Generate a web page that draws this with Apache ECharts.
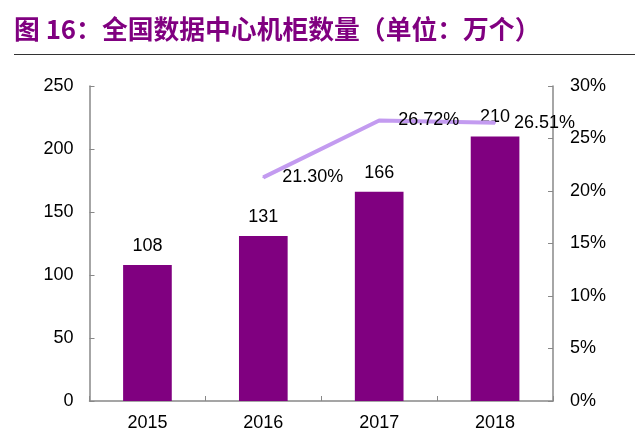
<!DOCTYPE html>
<html>
<head>
<meta charset="utf-8">
<script src="https://cdn.jsdelivr.net/npm/echarts@6/dist/echarts.min.js"></script>
<style>
html,body{margin:0;padding:0;background:#fff;}
#title{position:absolute;left:14px;top:12.5px;line-height:30px;font-family:"Noto Sans CJK SC","Liberation Sans",sans-serif;font-weight:bold;font-size:25.8px;color:#800080;white-space:nowrap;}
#rule{position:absolute;left:14px;top:54px;width:621px;height:0;border-top:1.5px solid #333;}
#chart{position:absolute;left:0;top:0;width:640px;height:435px;}
</style>
</head>
<body>
<div id="chart"></div>
<div id="title">图 16：全国数据中心机柜数量（单位：万个）</div>
<div id="rule"></div>
<script>
var categories = ['2015', '2016', '2017', '2018'];
var cabinets = [108, 131, 166, 210];
var growthPct = [null, 21.30, 26.72, 26.51];
var leftTicks = {min: 0, max: 250, interval: 50};
var rightTicks = {min: 0, max: 30, interval: 5};

var chart = echarts.init(document.getElementById('chart'));
var font = 'Liberation Sans';
chart.setOption({
  animation: false,
  grid: {left: 89.5, right: 87, top: 86, bottom: 34, containLabel: false},
  xAxis: {
    type: 'category',
    data: categories,
    axisLine: {lineStyle: {color: '#888', width: 1.5}},
    axisTick: {show: true, inside: true, length: 5, alignWithLabel: false, lineStyle: {color: '#888'}},
    axisLabel: {color: '#000', fontFamily: font, fontSize: 18, margin: 13}
  },
  yAxis: [{
    type: 'value',
    min: leftTicks.min, max: leftTicks.max, interval: leftTicks.interval,
    axisLine: {show: true, lineStyle: {color: '#888', width: 1.5}},
    axisTick: {show: true, inside: true, length: 5, lineStyle: {color: '#888'}},
    splitLine: {show: false},
    axisLabel: {color: '#000', fontFamily: font, fontSize: 18, margin: 16}
  }, {
    type: 'value',
    position: 'right',
    min: rightTicks.min, max: rightTicks.max, interval: rightTicks.interval,
    axisLine: {show: true, lineStyle: {color: '#888', width: 1.5}},
    axisTick: {show: true, inside: true, length: 5, lineStyle: {color: '#888'}},
    splitLine: {show: false},
    axisLabel: {color: '#000', fontFamily: font, fontSize: 18, margin: 17, formatter: '{value}%'}
  }],
  series: [{
    type: 'bar',
    data: cabinets,
    barWidth: '42%',
    itemStyle: {color: '#800080'},
    label: {show: true, position: 'top', distance: 10, color: '#000', fontFamily: font, fontSize: 18}
  }, {
    type: 'line',
    yAxisIndex: 1,
    data: growthPct,
    symbol: 'circle',
    symbolSize: 2,
    itemStyle: {color: '#C39BF0'},
    lineStyle: {color: '#C39BF0', width: 4},
    label: {show: true, position: 'right', distance: 18, color: '#000', fontFamily: font, fontSize: 18,
      formatter: function (p) { return p.value.toFixed(2) + '%'; }}
  }]
});
</script>
</body>
</html>
